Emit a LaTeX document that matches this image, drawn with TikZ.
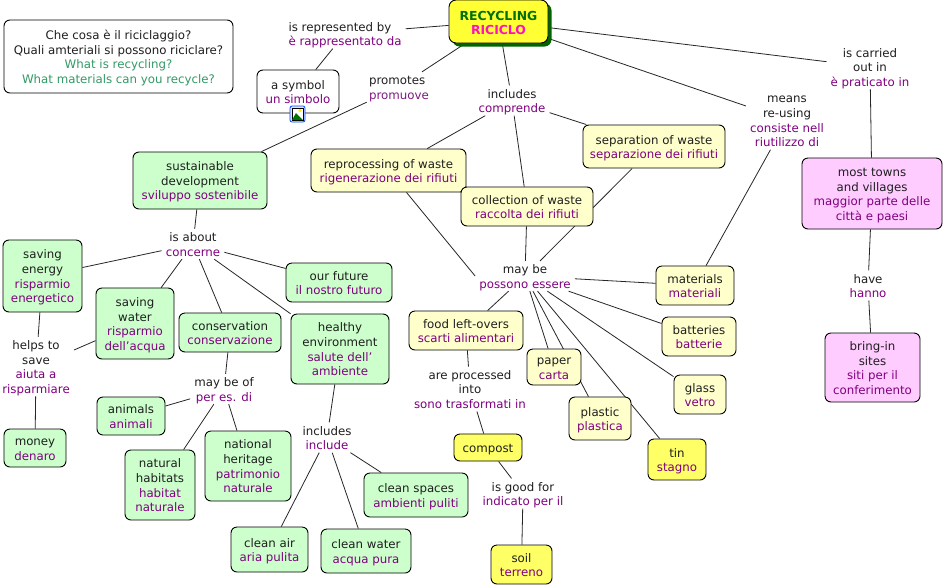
\documentclass[tikz,border=0pt]{standalone}
\usepackage{fontspec}
\setmainfont{DejaVu Sans}
\usetikzlibrary{backgrounds,shadows}
\definecolor{ipurple}{HTML}{800080}
\definecolor{iteal}{HTML}{339966}
\definecolor{fgreen}{HTML}{CCFFCC}
\definecolor{fyellow}{HTML}{FFFFCC}
\definecolor{fyel}{HTML}{FFFF66}
\definecolor{fpink}{HTML}{FFCCFF}
\definecolor{frec}{HTML}{FFFF33}
\definecolor{recgreen}{HTML}{007000}
\definecolor{recpink}{HTML}{FF10C0}
\definecolor{shadowg}{HTML}{006400}
\newcommand{\ita}[1]{\textcolor{ipurple}{#1}}
\tikzset{
  x=1pt,y=-1pt,
  tall/.code={\def\talllen{#1}},
  n1/.style={tall=12.5pt},
  n3/.style={tall=41.7pt},
  n4/.style={tall=56.3pt},
  txt/.style={font=\fontsize{11.8}{14.6}\selectfont,align=center,text=black!88,
    tall=27.1pt,
    execute at begin node={\rule{0pt}{\talllen}},
    execute at end node={\rule[-2.8pt]{0pt}{2.8pt}}},
  box/.style={txt,draw=black,line width=0.9pt,rounded corners=6pt,inner sep=0pt},
  gbox/.style={box,fill=fgreen},
  lbox/.style={box,fill=fyellow},
  ybox/.style={box,fill=fyel},
  pbox/.style={box,fill=fpink},
  wbox/.style={box,fill=white},
  lab/.style={txt,inner xsep=4pt,inner ysep=0pt},
  link/.style={draw=black!85,line width=0.8pt}
}
\begin{document}
\begin{tikzpicture}
\useasboundingbox (0,0) rectangle (944,587);
% concepts
\node[wbox,n4,minimum width=229,minimum height=73] (sq) at (118.5,56.5) {Che cosa è il riciclaggio?\\Quali amteriali si possono riciclare?\\\textcolor{iteal}{What is recycling?}\\\textcolor{iteal}{What materials can you recycle?}};
\node[box,fill=frec,minimum width=99,minimum height=43,rounded corners=7pt,
  drop shadow={shadow xshift=3.5pt,shadow yshift=-3.5pt,fill=shadowg,opacity=1},
  tall=29.6pt,
  font=\fontsize{12.4}{14.6}\selectfont\bfseries] (rec) at (498.5,21.5) {\textcolor{recgreen}{RECYCLING}\\\textcolor{recpink}{RICICLO}};
\node[wbox,minimum width=82,minimum height=43] (sym) at (298,91.5) {a symbol\\\ita{un simbolo}};
\node[gbox,n3,minimum width=134,minimum height=57] (sust) at (200,180.5) {sustainable\\development\\\ita{sviluppo sostenibile}};
\node[lbox,minimum width=155,minimum height=43] (repr) at (388.5,170.5) {reprocessing of waste\\\ita{rigenerazione dei rifiuti}};
\node[lbox,minimum width=142,minimum height=43] (sep) at (654,146.5) {separation of waste\\\ita{separazione dei rifiuti}};
\node[lbox,minimum width=132,minimum height=39] (coll) at (527,206.5) {collection of waste\\\ita{raccolta dei rifiuti}};
\node[gbox,n4,minimum width=79,minimum height=72] (energy) at (42.5,276) {saving\\energy\\\ita{risparmio}\\\ita{energetico}};
\node[gbox,n4,minimum width=78,minimum height=71] (swater) at (135,323.5) {saving\\water\\\ita{risparmio}\\\ita{dell\symbol{39}acqua}};
\node[gbox,minimum width=102,minimum height=39] (cons) at (230,332.5) {conservation\\\ita{conservazione}};
\node[gbox,minimum width=106,minimum height=39] (future) at (339,282.5) {our future\\\ita{il nostro futuro}};
\node[gbox,n4,minimum width=98,minimum height=70] (healthy) at (340,349) {healthy\\environment\\\ita{salute dell\symbol{39}}\\\ita{ambiente}};
\node[gbox,minimum width=68,minimum height=38] (animals) at (131,416) {animals\\\ita{animali}};
\node[gbox,minimum width=62,minimum height=38] (money) at (35,448) {money\\\ita{denaro}};
\node[gbox,n4,minimum width=70,minimum height=70] (habitats) at (160,485) {natural\\habitats\\\ita{habitat}\\\ita{naturale}};
\node[gbox,n4,minimum width=86,minimum height=70] (heritage) at (248,466) {national\\heritage\\\ita{patrimonio}\\\ita{naturale}};
\node[gbox,minimum width=77,minimum height=45] (air) at (269.5,549.5) {clean air\\\ita{aria pulita}};
\node[gbox,minimum width=90,minimum height=44] (cwater) at (366,551) {clean water\\\ita{acqua pura}};
\node[gbox,minimum width=104,minimum height=44] (spaces) at (416,495) {clean spaces\\\ita{ambienti puliti}};
\node[lbox,minimum width=114,minimum height=39] (food) at (466,330.5) {food left-overs\\\ita{scarti alimentari}};
\node[lbox,minimum width=54,minimum height=36] (paper) at (554,367) {paper\\\ita{carta}};
\node[lbox,minimum width=62,minimum height=43] (plastic) at (600,418.5) {plastic\\\ita{plastica}};
\node[ybox,minimum width=58,minimum height=41] (tin) at (677,459.5) {tin\\\ita{stagno}};
\node[lbox,minimum width=52,minimum height=39] (glass) at (700,394.5) {glass\\\ita{vetro}};
\node[lbox,minimum width=74,minimum height=39] (batt) at (699,336.5) {batteries\\\ita{batterie}};
\node[lbox,minimum width=78,minimum height=39] (mat) at (695,285.5) {materials\\\ita{materiali}};
\node[ybox,n1,minimum width=68,minimum height=27] (compost) at (488,447.5) {compost};
\node[ybox,minimum width=61,minimum height=39] (soil) at (521.5,564.5) {soil\\\ita{terreno}};
\node[pbox,n4,minimum width=140,minimum height=71] (towns) at (872,193.5) {most towns\\and villages\\\ita{maggior parte delle}\\\ita{città e paesi}};
\node[pbox,n4,minimum width=95,minimum height=69] (bring) at (872.5,367.5) {bring-in\\sites\\\ita{siti per il}\\\ita{conferimento}};
% linking phrases
\node[lab,align=left] (lrep) at (345,33.5) {is represented by\\\ita{è rappresentato da}};
\node[lab,align=left] (lpro) at (399,87) {promotes\\\textcolor{ipurple!80!gray}{promuove}};
\node[lab] (linc) at (512,100.5) {includes\\\ita{comprende}};
\node[lab,n4] (lmea) at (787,120) {means\\re-using\\\ita{consiste nell}\\\ita{riutilizzo di}};
\node[lab,n3] (lcar) at (870,67) {is carried\\out in\\\ita{è praticato in}};
\node[lab] (labo) at (193,244) {is about\\\ita{concerne}};
\node[lab,n4] (lhel) at (36,366.5) {helps to\\save\\\ita{aiuta a}\\\ita{risparmiare}};
\node[lab] (lmof) at (224,389) {may be of\\\ita{per es. di}};
\node[lab] (lin2) at (327,437.5) {includes\\\ita{include}};
\node[lab] (lmay) at (525,276) {may be\\\ita{possono essere}};
\node[lab,n3] (lare) at (470,389) {are processed\\into\\\ita{sono trasformati in}};
\node[lab] (lgoo) at (523,493.5) {is good for\\\ita{indicato per il}};
\node[lab] (lhav) at (868,285.5) {have\\\ita{hanno}};
% image icon on the symbol concept
\draw[draw=blue!70!cyan,fill=blue!12,line width=0.8pt,rounded corners=2pt] (290,106) rectangle (305,122);
\fill[white] (292,108) rectangle (303,120);
\draw[black,line width=0.4pt] (292,108) rectangle (303,120);
\fill[yellow!90!orange] (300,110.5) circle (1.6);
\fill[green!45!black] (292,120) -- (296,113) -- (303,120) -- cycle;
\begin{scope}[on background layer]
\fill[white] (0,0) rectangle (944,587);
\draw[link] (rec) -- (lrep);
\draw[link] (lrep) -- (sym);
\draw[link] (rec) -- (lpro);
\draw[link] (lpro) -- (sust);
\draw[link] (rec) -- (linc);
\draw[link] (linc) -- (repr);
\draw[link] (linc) -- (coll);
\draw[link] (linc) -- (sep);
\draw[link] (rec) -- (lmea);
\draw[link] (lmea) -- (mat);
\draw[link] (rec) -- (lcar);
\draw[link] (lcar) -- (towns);
\draw[link] (towns) -- (lhav);
\draw[link] (lhav) -- (bring);
\draw[link] (repr) -- (lmay.west);
\draw[link] (coll) -- (lmay);
\draw[link] (sep) -- (lmay);
\draw[link] (lmay) -- (mat);
\draw[link] (lmay) -- (batt);
\draw[link] (lmay) -- (glass);
\draw[link] (lmay) -- (tin);
\draw[link] (lmay) -- (plastic);
\draw[link] (lmay) -- (paper);
\draw[link] (lmay) -- (food);
\draw[link] (food) -- (lare);
\draw[link] (lare) -- (compost);
\draw[link] (compost) -- (lgoo);
\draw[link] (lgoo) -- (soil);
\draw[link] (sust) -- (labo);
\draw[link] (labo) -- (energy);
\draw[link] (labo) -- (swater);
\draw[link] (labo) -- (cons);
\draw[link] (labo) -- (healthy);
\draw[link] (labo) -- (future);
\draw[link] (energy) -- (lhel);
\draw[link] (swater) -- (lhel);
\draw[link] (lhel) -- (money);
\draw[link] (cons) -- (lmof);
\draw[link] (lmof) -- (animals);
\draw[link] (lmof) -- (habitats);
\draw[link] (lmof) -- (heritage);
\draw[link] (healthy) -- (lin2);
\draw[link] (lin2) -- (air);
\draw[link] (lin2) -- (cwater);
\draw[link] (lin2) -- (spaces);
\end{scope}
\end{tikzpicture}
\end{document}
